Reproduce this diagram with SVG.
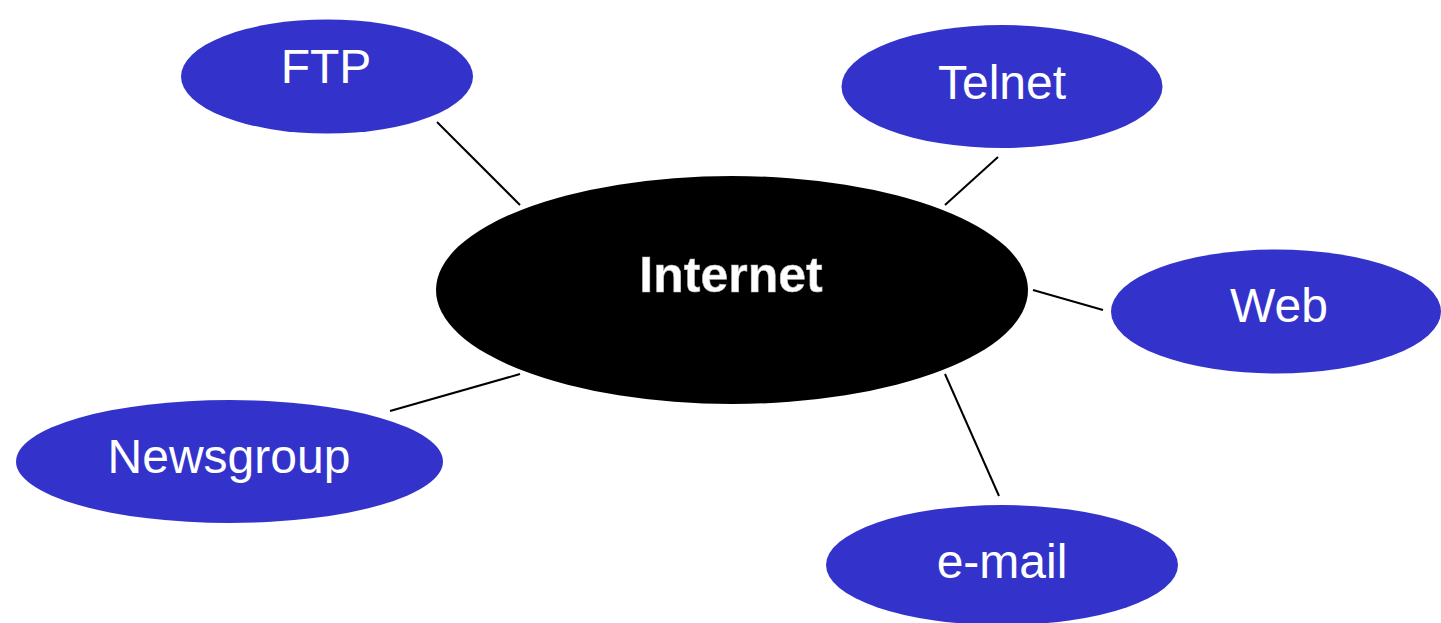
<svg xmlns="http://www.w3.org/2000/svg" width="1441" height="623" viewBox="0 0 1441 623">
<style>
.leaf{fill:#3333CC}
.lt{fill:#fff;font-family:"Liberation Sans",Arial,sans-serif;font-size:48px;text-anchor:middle}
.ct{fill:#fff;stroke:#bbb;stroke-width:0.6;font-family:"Liberation Sans",Arial,sans-serif;font-weight:bold;font-size:50px;text-anchor:middle}
.cn{stroke:#000;stroke-width:2;fill:none}
</style>
<rect width="1441" height="623" fill="#fff"/>
<g id="connectors">
<line class="cn" x1="437" y1="122" x2="520" y2="205"/>
<line class="cn" x1="998" y1="157" x2="945" y2="205"/>
<line class="cn" x1="1033" y1="290" x2="1103" y2="310"/>
<line class="cn" x1="390" y1="411" x2="520" y2="374"/>
<line class="cn" x1="945" y1="374" x2="999" y2="496"/>
</g>
<g id="internet">
<ellipse cx="732" cy="290" rx="296" ry="114" fill="#000"/>
<text class="ct" x="731" y="292">Internet</text>
</g>
<g id="ftp">
<ellipse class="leaf" cx="327" cy="76.5" rx="146" ry="57"/>
<text class="lt" x="326" y="83">FTP</text>
</g>
<g id="telnet">
<ellipse class="leaf" cx="1002" cy="86.5" rx="160.5" ry="61.5"/>
<text class="lt" x="1002" y="99">Telnet</text>
</g>
<g id="web">
<ellipse class="leaf" cx="1276" cy="311.5" rx="165" ry="62"/>
<text class="lt" x="1279" y="322">Web</text>
</g>
<g id="newsgroup">
<ellipse class="leaf" cx="229.5" cy="461.5" rx="213.5" ry="61.5"/>
<text class="lt" x="229" y="473">Newsgroup</text>
</g>
<g id="email">
<ellipse class="leaf" cx="1002" cy="565" rx="176" ry="60"/>
<text class="lt" x="1002" y="578">e-mail</text>
</g>
</svg>
